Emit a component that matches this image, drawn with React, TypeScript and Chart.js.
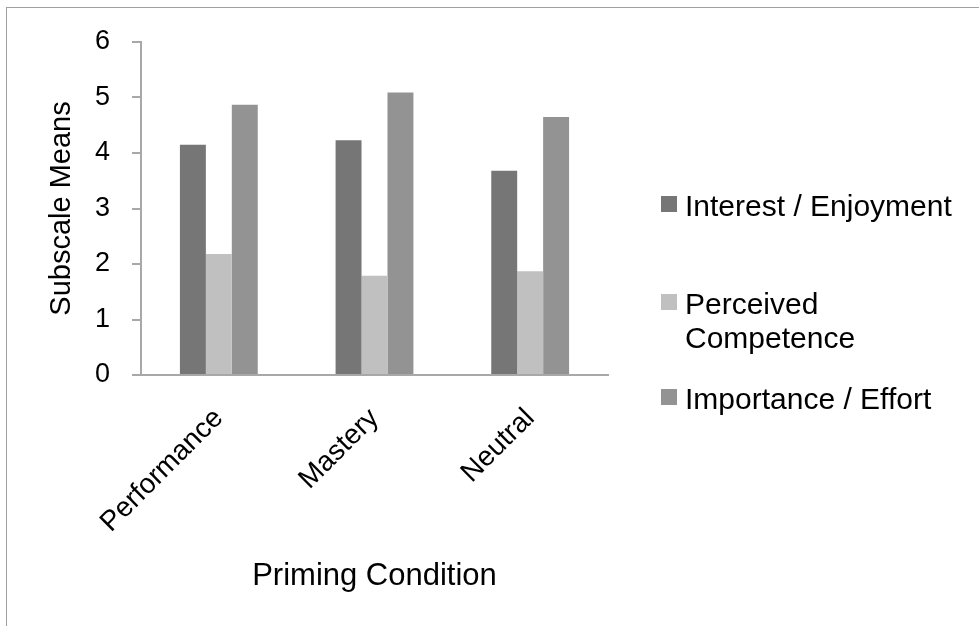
import React, { useEffect, useRef } from "react";
import { Chart, registerables } from "chart.js";

Chart.register(...registerables);

const categories = ["Performance", "Mastery", "Neutral"];
const seriesNames = ["Interest / Enjoyment", "Perceived Competence", "Importance / Effort"];
const legendLines = [["Interest / Enjoyment"], ["Perceived", "Competence"], ["Importance / Effort"]];
const interestValues = [4.15, 4.23, 3.68];
const competenceValues = [2.18, 1.79, 1.87];
const importanceValues = [4.87, 5.09, 4.65];
const seriesColors = ["#767676", "#c0c0c0", "#939393"];
const yTicks = [0, 1, 2, 3, 4, 5, 6];

const FONT = '"Liberation Sans", Arial, Helvetica, sans-serif';
const AXIS_COLOR = "#a8a8a8";

const legendPlugin = {
  id: "customLegend",
  afterDraw(chart: any) {
    const ctx = chart.ctx;
    ctx.save();
    ctx.font = `30px ${FONT}`;
    ctx.textBaseline = "alphabetic";
    ctx.textAlign = "left";
    const tops = [195, 293, 388];
    const lineGap = 34;
    chart.data.datasets.forEach((ds: any, i: number) => {
      const top = tops[i];
      ctx.fillStyle = ds.backgroundColor;
      ctx.fillRect(661, top + 1, 16, 16);
      ctx.fillStyle = "#000";
      legendLines[i].forEach((line, j) => {
        ctx.fillText(line, 685, top + 21 + j * lineGap);
      });
    });
    ctx.restore();
  },
};

export default function App() {
  const ref = useRef<HTMLCanvasElement | null>(null);

  useEffect(() => {
    if (!ref.current) return;
    const chart = new Chart(ref.current, {
      type: "bar",
      data: {
        labels: categories,
        datasets: [
          { label: seriesNames[0], data: interestValues, backgroundColor: seriesColors[0] },
          { label: seriesNames[1], data: competenceValues, backgroundColor: seriesColors[1] },
          { label: seriesNames[2], data: importanceValues, backgroundColor: seriesColors[2] },
        ],
      },
      options: {
        responsive: false,
        animation: false,
        layout: { padding: { top: 42, right: 371, bottom: 0, left: 0 } },
        datasets: {
          bar: { categoryPercentage: 0.5, barPercentage: 1.0 },
        },
        plugins: {
          legend: { display: false },
          tooltip: { enabled: false },
        },
        scales: {
          x: {
            grid: { display: true, drawOnChartArea: false, drawTicks: false, color: AXIS_COLOR },
            border: { display: true, color: AXIS_COLOR, width: 2 },
            ticks: {
              color: "#000",
              font: { family: FONT, size: 28 },
              minRotation: 45,
              maxRotation: 45,
              autoSkip: false,
              padding: 27,
            },
            title: {
              display: true,
              text: "Priming Condition",
              color: "#000",
              font: { family: FONT, size: 31 },
              padding: { top: 0, bottom: 31 },
            },
            afterFit: (scale: any) => {
              scale.height = 251;
            },
          },
          y: {
            min: 0,
            max: 6,
            afterBuildTicks: (scale: any) => {
              scale.ticks = yTicks.map((v) => ({ value: v }));
            },
            grid: { display: true, drawOnChartArea: false, drawTicks: true, tickLength: 9, color: AXIS_COLOR, lineWidth: 2 },
            border: { display: true, color: AXIS_COLOR, width: 2 },
            ticks: {
              color: "#000",
              font: { family: FONT, size: 27 },
              padding: 22,
            },
            title: {
              display: true,
              text: "Subscale Means",
              color: "#000",
              font: { family: FONT, size: 29 },
              padding: { top: 45, bottom: 0 },
            },
            afterFit: (scale: any) => {
              scale.width = 141;
            },
          },
        },
      },
      plugins: [legendPlugin],
    });
    return () => chart.destroy();
  }, []);

  return (
    <div style={{ position: "absolute", left: 0, top: 0, width: 979, height: 626, overflow: "hidden", background: "#fff" }}>
      <div
        style={{
          position: "absolute",
          left: 6,
          top: 7,
          width: 1100,
          height: 800,
          border: "1px solid #a0a0a0",
        }}
      />
      <canvas ref={ref} width={979} height={626} style={{ position: "absolute", left: 0, top: 0 }} />
    </div>
  );
}
